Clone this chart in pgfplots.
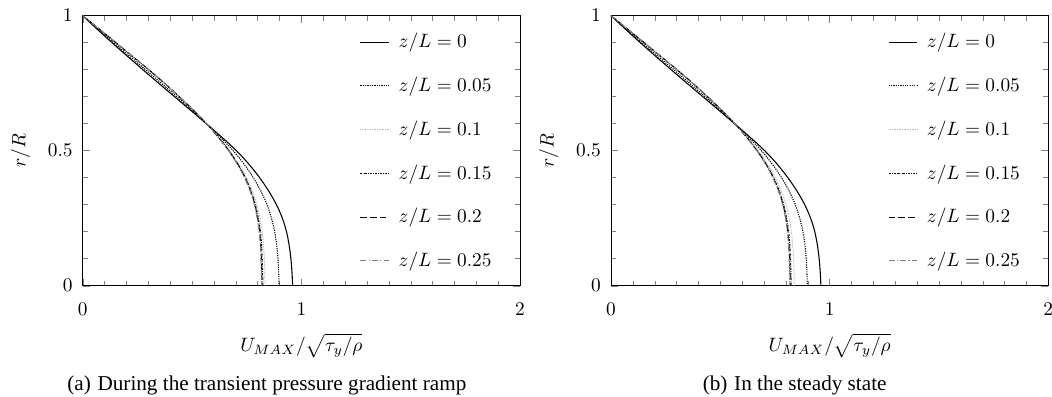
\documentclass[border=0pt]{standalone}
\usepackage[no-math]{fontspec}
\newfontfamily\capfont{Liberation Serif}
\usepackage{pgfplots}
\usepackage{pgfplotstable}
\pgfplotsset{compat=1.18}

\pgfplotstableread{
y A B D E C G
1.00 0 0 0 0 0 0
0.95 0.066 0.070 0.075 0.076 0.076 0.076
0.90 0.134 0.142 0.150 0.151 0.152 0.152
0.85 0.204 0.214 0.225 0.226 0.227 0.227
0.80 0.275 0.287 0.299 0.301 0.302 0.302
0.75 0.347 0.359 0.371 0.373 0.374 0.374
0.70 0.420 0.430 0.440 0.441 0.442 0.442
0.65 0.493 0.499 0.505 0.505 0.506 0.506
0.60 0.565 0.565 0.566 0.566 0.566 0.566
0.55 0.636 0.629 0.622 0.621 0.620 0.619
0.50 0.703 0.688 0.672 0.669 0.668 0.667
0.45 0.760 0.738 0.714 0.710 0.709 0.707
0.40 0.809 0.780 0.749 0.744 0.742 0.740
0.35 0.851 0.815 0.776 0.770 0.768 0.766
0.30 0.886 0.843 0.797 0.790 0.787 0.785
0.25 0.913 0.863 0.811 0.803 0.800 0.798
0.20 0.932 0.878 0.821 0.813 0.809 0.807
0.15 0.944 0.887 0.827 0.818 0.814 0.812
0.10 0.952 0.893 0.831 0.821 0.817 0.815
0.05 0.957 0.896 0.833 0.823 0.819 0.817
0.00 0.960 0.898 0.834 0.824 0.820 0.818
}\tblA

\pgfplotstableread{
y A B D E C G
1.00 0 0 0 0 0 0
0.95 0.066 0.070 0.075 0.076 0.076 0.076
0.90 0.134 0.142 0.150 0.151 0.152 0.152
0.85 0.204 0.214 0.225 0.226 0.227 0.227
0.80 0.275 0.287 0.299 0.301 0.302 0.302
0.75 0.347 0.359 0.371 0.373 0.374 0.374
0.70 0.420 0.430 0.440 0.441 0.442 0.442
0.65 0.493 0.499 0.505 0.505 0.506 0.506
0.60 0.565 0.565 0.566 0.566 0.566 0.566
0.55 0.636 0.629 0.623 0.621 0.620 0.619
0.50 0.703 0.688 0.673 0.669 0.668 0.667
0.45 0.760 0.738 0.716 0.710 0.709 0.707
0.40 0.809 0.780 0.751 0.744 0.742 0.740
0.35 0.851 0.815 0.779 0.770 0.768 0.766
0.30 0.886 0.843 0.801 0.790 0.787 0.785
0.25 0.913 0.863 0.815 0.803 0.800 0.798
0.20 0.932 0.878 0.825 0.813 0.809 0.807
0.15 0.944 0.887 0.831 0.818 0.814 0.812
0.10 0.952 0.893 0.835 0.821 0.817 0.815
0.05 0.957 0.896 0.837 0.823 0.819 0.817
0.00 0.960 0.898 0.838 0.824 0.820 0.818
}\tblB

\pgfplotsset{
  profile/.style={
    scale only axis, width=226.1pt, height=139.6pt,
    clip=false,
    xmin=0, xmax=2, ymin=0, ymax=1,
    xtick={0,1,2}, ytick={0,0.5,1},
    minor x tick num=9, minor y tick num=4,
    major tick length=3.6pt, minor tick length=2.6pt,
    tick align=inside,
    xticklabel style={yshift=-5.5pt},
    yticklabel style={xshift=-1.7pt},
    xlabel={$U_{MAX}/\sqrt{\tau_y/\rho}$},
    ylabel={$r/R$},
    xlabel style={at={(axis description cs:0.5,-0.222)}, anchor=center},
    ylabel style={at={(axis description cs:-0.142,0.5)}, anchor=center},
    legend style={draw=none, fill=none, at={(axis description cs:0.633,0.95)},
      anchor=north west, inner sep=0pt, row sep=9.6pt, column sep=3pt,
      nodes={inner sep=2pt}},
    legend cell align=left,
    legend image code/.code={\draw[#1] (0pt,0pt) -- (14.5pt,0pt);},
  },
  sA/.style={black, solid, line width=0.55pt, smooth},
  sB/.style={black, line width=0.55pt, dash pattern=on 0.6pt off 0.6pt, smooth},
  sD/.style={gray!55, line width=0.5pt, dash pattern=on 0.4pt off 0.45pt, smooth},
  sE/.style={black, line width=0.5pt, dash pattern=on 1pt off 0.6pt on 0.3pt off 0.6pt, smooth},
  sC/.style={black, line width=0.5pt, dash pattern=on 3.4pt off 1.6pt, smooth},
  sG/.style={gray, line width=0.55pt, dash pattern=on 3pt off 1.2pt on 0.6pt off 1.2pt, smooth},
}

\begin{document}
\begin{tikzpicture}
\begin{axis}[profile, at={(0pt,0pt)}, anchor=south west]
  \addplot[sA] table[x=A,y=y]{\tblA};
  \addplot[sB] table[x=B,y=y]{\tblA};
  \addplot[sD] table[x=D,y=y]{\tblA};
  \addplot[sE] table[x=E,y=y]{\tblA};
  \addplot[sC] table[x=C,y=y]{\tblA};
  \addplot[sG] table[x=G,y=y]{\tblA};
  \legend{$z/L=0$,$z/L=0.05$,$z/L=0.1$,$z/L=0.15$,$z/L=0.2$,$z/L=0.25$}
  \node[font=\capfont\fontsize{10.95}{13}\selectfont, anchor=center] at (axis description cs:0.421,-0.368)
    {(a)\hspace{3.5pt}During the transient pressure gradient ramp};
\end{axis}
\begin{axis}[profile, at={(273.1pt,0pt)}, anchor=south west]
  \addplot[sA] table[x=A,y=y]{\tblB};
  \addplot[sB] table[x=B,y=y]{\tblB};
  \addplot[sD] table[x=D,y=y]{\tblB};
  \addplot[sE] table[x=E,y=y]{\tblB};
  \addplot[sC] table[x=C,y=y]{\tblB};
  \addplot[sG] table[x=G,y=y]{\tblB};
  \legend{$z/L=0$,$z/L=0.05$,$z/L=0.1$,$z/L=0.15$,$z/L=0.2$,$z/L=0.25$}
  \node[font=\capfont\fontsize{10.95}{13}\selectfont, anchor=center] at (axis description cs:0.42,-0.368)
    {(b)\hspace{3.5pt}In the steady state};
\end{axis}
\pgfresetboundingbox
\path[use as bounding box] (-42.76pt,-57.5pt) rectangle (501.1pt,147.7pt);
\end{tikzpicture}
\end{document}
